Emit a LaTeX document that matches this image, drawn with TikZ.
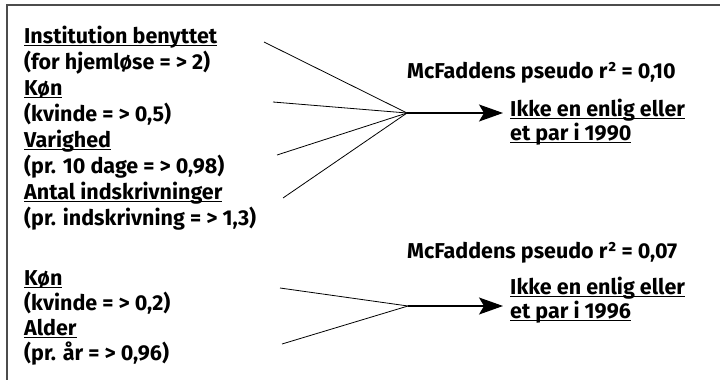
\documentclass[tikz,border=0pt]{standalone}
\usepackage{fontspec}
\setmainfont{Fira Sans}
\usetikzlibrary{arrows.meta}
% understregning lige under grundlinjen
\newcommand{\strek}[1]{\setbox0\hbox{#1}\rlap{\rule[-3.4pt]{\wd0}{1.4pt}}\box0}

\begin{document}
\begin{tikzpicture}[x=1pt,y=-1pt,
    txt/.style={anchor=base west, inner sep=0pt, font=\fontsize{21.5}{24}\selectfont\bfseries},
    spoke/.style={black, line width=0.8pt},
    pil/.style={black, line width=1.2pt, -{Stealth[length=24pt,width=17pt,inset=5pt]}}]
  \useasboundingbox (0,0) rectangle (720,380);

  % 1. ramme (kun top og venstre side er synlig)
  \draw[gray!60!black, line width=1.2pt] (7,5) rectangle (740,400);

  % 2. forklarende variable, 1990
  \node[txt] (inst)   at (24,43)  {\strek{Institution benyttet}};
  \node[txt] (instv)  at (24,69)  {(for hjemløse = > 2)};
  \node[txt] (kon)    at (24,95)  {\strek{Køn}};
  \node[txt] (konv)   at (24,121) {(kvinde = > 0,5)};
  \node[txt] (var)    at (24,147) {\strek{Varighed}};
  \node[txt] (varv)   at (24,173) {(pr. 10 dage = > 0,98)};
  \node[txt] (antal)  at (24,199) {\strek{Antal indskrivninger}};
  \node[txt] (antalv) at (24,225) {(pr. indskrivning = > 1,3)};

  % 3. forklarende variable, 1996
  \node[txt] (konb)   at (24,285) {\strek{Køn}};
  \node[txt] (konbv)  at (24,310) {(kvinde = > 0,2)};
  \node[txt] (alder)  at (24,335) {\strek{Alder}};
  \node[txt] (alderv) at (24,360) {(pr. år = > 0,96)};

  % 4. model 1990
  \coordinate (s1) at (264,42);
  \coordinate (s2) at (273,102);
  \coordinate (s3) at (277,155);
  \coordinate (s4) at (283,198);
  \coordinate (m1) at (407,113);
  \coordinate (t1) at (503,113);
  \draw[spoke] (s1) -- (m1);
  \draw[spoke] (s2) -- (m1);
  \draw[spoke] (s3) -- (m1);
  \draw[spoke] (s4) -- (m1);
  \draw[pil] (m1) -- (t1);
  \node[txt] (r1)  at (407,78)  {McFaddens pseudo r² = 0,10};
  \node[txt] (y1a) at (510,116) {\strek{Ikke en enlig eller}};
  \node[txt] (y1b) at (510,140) {\strek{et par i 1990}};

  % 5. model 1996
  \coordinate (u1) at (280,288);
  \coordinate (u2) at (282,344);
  \coordinate (m2) at (408,306);
  \coordinate (t2) at (503,306);
  \draw[spoke] (u1) -- (m2);
  \draw[spoke] (u2) -- (m2);
  \draw[pil] (m2) -- (t2);
  \node[txt] (r2)  at (407,258) {McFaddens pseudo r² = 0,07};
  \node[txt] (y2a) at (510,294) {\strek{Ikke en enlig eller}};
  \node[txt] (y2b) at (510,318) {\strek{et par i 1996}};
\end{tikzpicture}
\end{document}
